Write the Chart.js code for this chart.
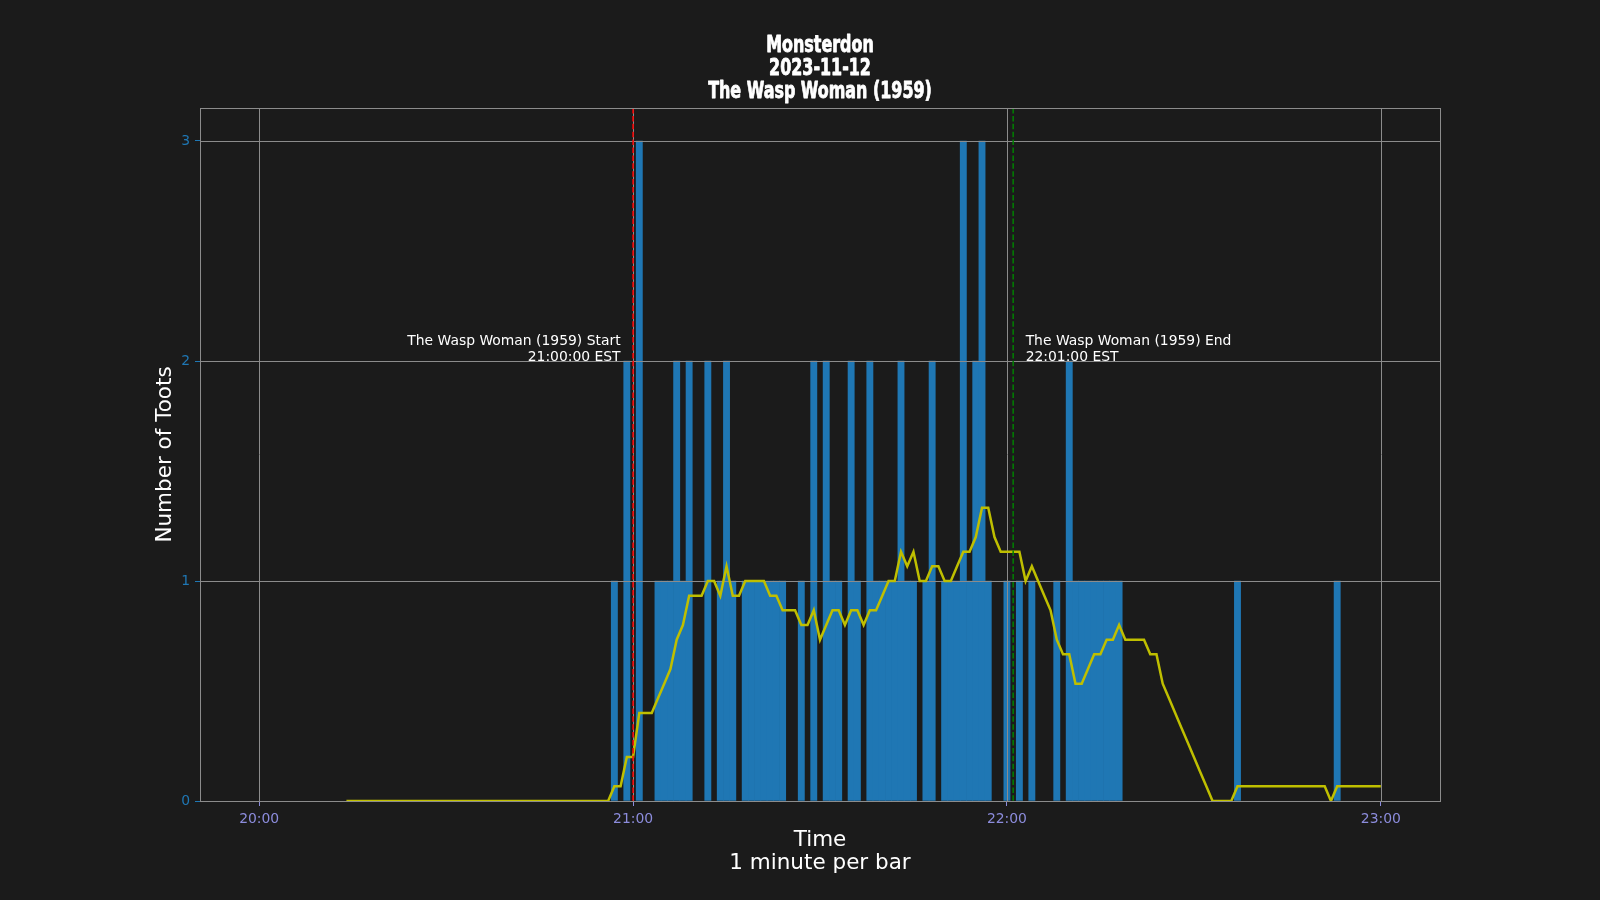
<!DOCTYPE html>
<html>
<head>
<meta charset="utf-8">
<title>Monsterdon - The Wasp Woman (1959)</title>
<script src="https://cdn.jsdelivr.net/npm/chart.js@4.4.0/dist/chart.umd.min.js"></script>
<style>
  html, body { margin: 0; padding: 0; background: #1b1b1b; }
</style>
</head>
<body>
<canvas id="tootChart" width="1600" height="900"></canvas>
<script>
// Chart text
const titleLines = ['Monsterdon', '2023-11-12', 'The Wasp Woman (1959)'];
const xTitleLines = ['Time', '1 minute per bar'];
const yTitle = 'Number of Toots';

// Toots per minute (minutes with no toots are left out)
const tootTimes = [
    '20:57', '20:59', '21:01', '21:04', '21:05', '21:06', '21:07', '21:08', '21:09', '21:12',
    '21:14', '21:15', '21:16', '21:18', '21:19', '21:20', '21:21', '21:22', '21:23', '21:24',
    '21:27', '21:29', '21:31', '21:32', '21:33', '21:35', '21:36', '21:38', '21:39', '21:40',
    '21:41', '21:42', '21:43', '21:44', '21:45', '21:47', '21:48', '21:50', '21:51', '21:52',
    '21:53', '21:54', '21:55', '21:56', '21:57', '22:00', '22:02', '22:04', '22:08', '22:10',
    '22:11', '22:12', '22:13', '22:14', '22:15', '22:16', '22:17', '22:18', '22:37', '22:53'
];
const tootCounts = [
    1, 2, 3, 1, 1, 1, 2, 1, 2, 2,
    1, 2, 1, 1, 1, 1, 1, 1, 1, 1,
    1, 2, 2, 1, 1, 2, 1, 2, 1, 1,
    1, 1, 2, 1, 1, 1, 2, 1, 1, 1,
    3, 1, 2, 3, 1, 1, 1, 1, 1, 2,
    1, 1, 1, 1, 1, 1, 1, 1, 1, 1
];

// Rolling average line, one point per minute starting at avgStart
const avgStart = '20:14';
const avgValues = [
    0, 0, 0, 0, 0, 0, 0, 0, 0, 0, 0, 0, 0, 0, 0, 0, 0, 0, 0, 0,
    0, 0, 0, 0, 0, 0, 0, 0, 0, 0, 0, 0, 0, 0, 0, 0, 0, 0, 0, 0,
    0, 0, 0,
    0.067, 0.067, 0.2, 0.2, 0.4, 0.4, 0.4, 0.467, 0.533, 0.6,
    0.733, 0.8, 0.933, 0.933, 0.933, 1, 1, 0.933, 1.067, 0.933,
    0.933, 1, 1, 1, 1, 0.933, 0.933, 0.867, 0.867, 0.867,
    0.8, 0.8, 0.867, 0.733, 0.8, 0.867, 0.867, 0.8, 0.867, 0.867,
    0.8, 0.867, 0.867, 0.933, 1, 1, 1.133, 1.067, 1.133, 1,
    1, 1.067, 1.067, 1, 1, 1.067, 1.133, 1.133, 1.2, 1.333,
    1.333, 1.2, 1.133, 1.133, 1.133, 1.133, 1, 1.067, 1, 0.933,
    0.867, 0.733, 0.667, 0.667, 0.533, 0.533, 0.6, 0.667, 0.667, 0.733,
    0.733, 0.8, 0.733, 0.733, 0.733, 0.733, 0.667, 0.667, 0.533, 0.467,
    0.4, 0.333, 0.267, 0.2, 0.133, 0.067, 0, 0, 0, 0,
    0.067, 0.067, 0.067, 0.067, 0.067, 0.067, 0.067, 0.067, 0.067, 0.067,
    0.067, 0.067, 0.067, 0.067, 0.067, 0, 0.067, 0.067, 0.067, 0.067,
    0.067, 0.067, 0.067, 0.067
];

// Axes
const xTickLabels = ['20:00', '21:00', '22:00', '23:00'];
const yTickValues = [0, 1, 2, 3];
const xRange = ['19:50:30', '23:09:30'];
const yMax = 3.15;

// Movie start / end markers
const eventLabels = ['The Wasp Woman (1959) Start', 'The Wasp Woman (1959) End'];
const eventTimes = ['21:00:00', '22:01:00'];
const eventLabelY = 2;

// Colours
const BG = '#1b1b1b';
const GRID = '#8c8c8c';
const BAR = '#1f77b4';
const AVG = '#bfbf00';
const EVENT_COLORS = ['#ff0000', '#008000'];

function toMinutes(s) {
    const p = s.split(':').map(Number);
    return p[0] * 60 + p[1] + (p[2] || 0) / 60;
}
function fmtTime(v) {
    const h = Math.floor(v / 60);
    const m = Math.round(v - h * 60);
    return String(h).padStart(2, '0') + ':' + String(m).padStart(2, '0');
}

const barPoints = tootTimes.map((t, i) => ({ x: toMinutes(t), y: tootCounts[i] }));
const avgPoints = avgValues.map((v, i) => ({ x: toMinutes(avgStart) + i, y: v }));

const background = {
    id: 'background',
    beforeDraw(chart) {
        const ctx = chart.ctx;
        ctx.save();
        ctx.fillStyle = BG;
        ctx.fillRect(0, 0, chart.width, chart.height);
        ctx.restore();
    }
};

// matplotlib draws the grid above the bars but under the line
const gridOverBars = {
    id: 'gridOverBars',
    afterDatasetDraw(chart, args) {
        if (args.meta.type !== 'bar') return;
        const { ctx, chartArea: a, scales: { x, y } } = chart;
        ctx.save();
        ctx.strokeStyle = GRID;
        ctx.lineWidth = 1;
        ctx.beginPath();
        x.ticks.forEach(t => {
            const px = Math.round(x.getPixelForValue(t.value)) + 0.5;
            ctx.moveTo(px, a.top);
            ctx.lineTo(px, a.bottom);
        });
        y.ticks.forEach(t => {
            const py = Math.round(y.getPixelForValue(t.value)) + 0.5;
            ctx.moveTo(a.left, py);
            ctx.lineTo(a.right, py);
        });
        ctx.stroke();
        ctx.restore();
    }
};

const markers = {
    id: 'markers',
    afterDatasetsDraw(chart) {
        const { ctx, chartArea: a, scales: { x, y } } = chart;
        ctx.save();
        eventTimes.forEach((t, i) => {
            const m = toMinutes(t);
            const px = x.getPixelForValue(m);
            ctx.strokeStyle = EVENT_COLORS[i];
            ctx.lineWidth = 1.5;
            ctx.setLineDash([5.5, 2.4]);
            ctx.beginPath();
            ctx.moveTo(px, a.top);
            ctx.lineTo(px, a.bottom);
            ctx.stroke();

            // label sits 2 minutes away from the line, bottom on y = 2
            const isStart = i === 0;
            const tx = x.getPixelForValue(isStart ? m - 2 : m + 2);
            const ty = y.getPixelForValue(eventLabelY);
            ctx.setLineDash([]);
            ctx.fillStyle = '#ffffff';
            ctx.font = '13.9px "DejaVu Sans"';
            ctx.textAlign = isStart ? 'right' : 'left';
            ctx.textBaseline = 'alphabetic';
            ctx.fillText(eventLabels[i], tx, ty - 16.5);
            ctx.fillText(t + ' EST', tx, ty - 0.5);
        });
        // axes frame
        ctx.setLineDash([]);
        ctx.strokeStyle = GRID;
        ctx.lineWidth = 1;
        ctx.strokeRect(Math.round(a.left) + 0.5, Math.round(a.top) + 0.5,
            Math.round(a.right - a.left), Math.round(a.bottom - a.top));
        ctx.restore();
    }
};

// Impact-like title: condensed bold squeezed a bit more, centred on the plot
const titleBlock = {
    id: 'titleBlock',
    afterDraw(chart) {
        const { ctx, chartArea: a } = chart;
        const cx = (a.left + a.right) / 2;
        ctx.save();
        ctx.fillStyle = '#ffffff';
        ctx.strokeStyle = '#ffffff';
        ctx.lineWidth = 0.8;
        ctx.lineJoin = 'round';
        ctx.font = 'bold 23px "DejaVu Sans Condensed", "DejaVu Sans", sans-serif';
        ctx.textAlign = 'center';
        ctx.textBaseline = 'alphabetic';
        titleLines.forEach((line, i) => {
            ctx.save();
            ctx.translate(cx, 51.7 + i * 23.2);
            ctx.scale(0.77, 1);
            ctx.fillText(line, 0, 0);
            ctx.strokeText(line, 0, 0);
            ctx.restore();
        });
        ctx.restore();
    }
};

Chart.defaults.font.family = '"DejaVu Sans", sans-serif';
Chart.defaults.color = '#ffffff';

const ctx = document.getElementById('tootChart').getContext('2d');
const chart = new Chart(ctx, {
    type: 'bar',
    data: {
        datasets: [
            {
                type: 'bar',
                label: 'Toots',
                data: barPoints,
                backgroundColor: BAR,
                borderWidth: 0,
                barPercentage: 1,
                categoryPercentage: 1,
                order: 1
            },
            {
                type: 'line',
                label: 'Rolling average',
                data: avgPoints,
                borderColor: AVG,
                borderWidth: 2.5,
                pointRadius: 0,
                tension: 0,
                fill: false,
                order: 0
            }
        ]
    },
    options: {
        responsive: false,
        animation: false,
        events: [],
        layout: {
            padding: { left: 153, right: 160, top: 108, bottom: 0 }
        },
        plugins: {
            legend: { display: false },
            tooltip: { enabled: false },
            title: { display: false }
        },
        scales: {
            x: {
                type: 'linear',
                min: toMinutes(xRange[0]),
                max: toMinutes(xRange[1]),
                offset: false,
                afterBuildTicks: s => { s.ticks = xTickLabels.map(l => ({ value: toMinutes(l) })); },
                afterFit: s => { s.height = 99; },
                grid: {
                    offset: false,
                    drawOnChartArea: false,
                    drawTicks: true,
                    tickLength: 5,
                    tickColor: '#8c8cdc'
                },
                border: { display: false },
                ticks: {
                    color: '#8c8cdc',
                    font: { size: 13.9 },
                    padding: 5,
                    maxRotation: 0,
                    autoSkip: false,
                    callback: v => fmtTime(v)
                },
                title: {
                    display: true,
                    text: xTitleLines,
                    color: '#ffffff',
                    font: { size: 21.5, lineHeight: 23 / 21.5 },
                    padding: { top: 0, bottom: 25.5 }
                }
            },
            y: {
                min: 0,
                max: yMax,
                afterBuildTicks: s => { s.ticks = yTickValues.map(v => ({ value: v })); },
                afterFit: s => { s.width = 47; },
                grid: {
                    drawOnChartArea: false,
                    drawTicks: true,
                    tickLength: 5,
                    tickColor: BAR
                },
                border: { display: false },
                ticks: {
                    color: BAR,
                    font: { size: 13.9 },
                    padding: 5,
                    callback: v => String(v)
                },
                title: {
                    display: true,
                    text: yTitle,
                    color: '#ffffff',
                    font: { size: 21.5 },
                    padding: { top: 0, bottom: 0 }
                }
            }
        }
    },
    plugins: [background, gridOverBars, markers, titleBlock]
});
</script>
</body>
</html>
